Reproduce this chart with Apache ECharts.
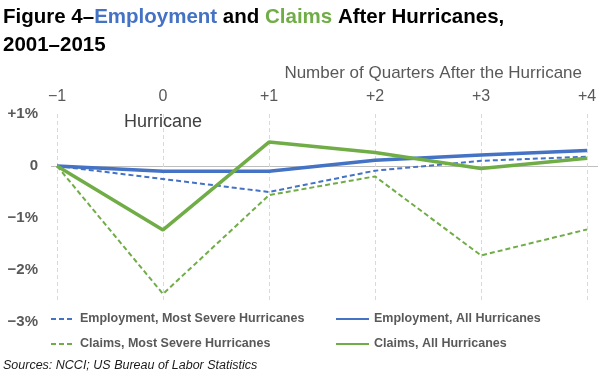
<!DOCTYPE html>
<html>
<head>
<meta charset="utf-8">
<script src="https://cdn.jsdelivr.net/npm/echarts@6/dist/echarts.min.js"></script>
<style>
  html, body { margin: 0; padding: 0; background: #fff; }
  #chart { width: 600px; height: 376px; }
</style>
</head>
<body>
<div id="chart"></div>
<script>
const chart = echarts.init(document.getElementById('chart'));

const quarters = [-1, 0, 1, 2, 3, 4];
const quarterLabels = ['\u22121', '0', '+1', '+2', '+3', '+4'];
const yTicks = [-3, -2, -1, 0, 1];
const yTickLabels = ['\u22123%', '\u22122%', '\u22121%', '0', '+1%'];

// percent change vs. the quarter before the hurricane
const empSevere = [0, -0.25, -0.5, -0.09, 0.1, 0.18];
const empAll = [0, -0.1, -0.1, 0.11, 0.21, 0.3];
const claimsSevere = [0, -2.46, -0.56, -0.2, -1.72, -1.22];
const claimsAll = [0, -1.23, 0.46, 0.26, -0.05, 0.15];

const FONT = 'Liberation Sans';
const GRAY = '#595959';
const BLUE = '#4472C4';
const GREEN = '#70AD47';

const pairs = vals => quarters.map((q, i) => [q, vals[i]]);

const legendText = { fontFamily: FONT, fontSize: 12.5, fontWeight: 'bold', color: GRAY, lineHeight: 14 };

const option = {
  animation: false,
  textStyle: { fontFamily: FONT },
  title: [
    {
      left: 3,
      top: 3,
      padding: 0,
      text: '{b|Figure 4\u2013}{e|Employment}{b| and }{c|Claims}{b| After Hurricanes,}\n{b|2001\u20132015}',
      textStyle: {
        rich: {
          b: { fontFamily: FONT, fontSize: 20.5, fontWeight: 'bold', color: '#000', lineHeight: 28 },
          e: { fontFamily: FONT, fontSize: 20.5, fontWeight: 'bold', color: BLUE, lineHeight: 28 },
          c: { fontFamily: FONT, fontSize: 20.5, fontWeight: 'bold', color: GREEN, lineHeight: 28 }
        }
      }
    },
    {
      // x axis name, sits above the tick labels
      right: 18,
      top: 64,
      padding: 0,
      text: 'Number of Quarters After the Hurricane',
      textStyle: { fontFamily: FONT, fontSize: 17, fontWeight: 'normal', color: GRAY, lineHeight: 18 }
    },
    {
      left: 3,
      top: 359,
      padding: 0,
      text: 'Sources: NCCI; US Bureau of Labor Statistics',
      textStyle: { fontFamily: FONT, fontSize: 12.5, fontStyle: 'italic', fontWeight: 'normal', color: '#1a1a1a', lineHeight: 14 }
    }
  ],
  legend: [
    {
      orient: 'vertical',
      left: 45,
      top: 303,
      padding: [9, 20, 8, 5],
      backgroundColor: '#fff',
      itemWidth: 24,
      itemHeight: 14,
      itemGap: 11,
      itemStyle: { opacity: 0 },
      data: ['Employment, Most Severe Hurricanes', 'Claims, Most Severe Hurricanes'],
      textStyle: legendText
    },
    {
      orient: 'vertical',
      left: 330,
      top: 303,
      padding: [9, 70, 8, 5],
      backgroundColor: '#fff',
      itemWidth: 33,
      itemHeight: 14,
      itemGap: 11,
      itemStyle: { opacity: 0 },
      data: ['Employment, All Hurricanes', 'Claims, All Hurricanes'],
      textStyle: legendText
    }
  ],
  grid: { left: 51, right: 2, top: 114, bottom: 54 },
  xAxis: {
    type: 'value',
    position: 'top',
    min: -1.0566,
    max: 4.1038,
    axisLine: { show: false },
    axisTick: { show: false },
    axisLabel: {
      showMinLabel: false,
      showMaxLabel: false,
      margin: 9,
      fontFamily: FONT,
      fontSize: 16,
      color: GRAY,
      formatter: v => {
        const i = quarters.indexOf(Math.round(v * 1000) / 1000);
        return i < 0 ? '' : quarterLabels[i];
      }
    },
    splitLine: {
      show: true,
      showMinLine: false,
      showMaxLine: false,
      lineStyle: { color: '#d9d9d9', width: 1, type: [4, 3] }
    }
  },
  yAxis: {
    type: 'value',
    min: -3,
    max: 1,
    interval: 1,
    axisLine: { show: false },
    axisTick: { show: false },
    axisLabel: {
      margin: 13,
      fontFamily: FONT,
      fontSize: 15,
      fontWeight: 'bold',
      color: GRAY,
      formatter: v => yTickLabels[yTicks.indexOf(v)]
    },
    splitLine: {
      show: true,
      lineStyle: {
        width: 1,
        // only the zero line is visible
        color: yTicks.map(t => (t === 0 ? '#bfbfbf' : 'rgba(0,0,0,0)'))
      }
    }
  },
  series: [
    {
      name: 'Employment, Most Severe Hurricanes',
      type: 'line',
      symbol: 'none',
      data: pairs(empSevere),
      lineStyle: { color: BLUE, width: 2, type: [5, 3] },
      itemStyle: { color: BLUE }
    },
    {
      name: 'Employment, All Hurricanes',
      type: 'line',
      symbol: 'none',
      data: pairs(empAll),
      lineStyle: { color: BLUE, width: 3.5 },
      itemStyle: { color: BLUE },
      markPoint: {
        symbol: 'circle',
        symbolSize: 0,
        silent: true,
        label: {
          show: true,
          position: 'inside',
          formatter: 'Hurricane',
          fontFamily: FONT,
          fontSize: 18,
          color: '#404040'
        },
        data: [{ coord: [0, 0.85] }]
      }
    },
    {
      name: 'Claims, Most Severe Hurricanes',
      type: 'line',
      symbol: 'none',
      data: pairs(claimsSevere),
      lineStyle: { color: GREEN, width: 2, type: [5, 3] },
      itemStyle: { color: GREEN }
    },
    {
      name: 'Claims, All Hurricanes',
      type: 'line',
      symbol: 'none',
      data: pairs(claimsAll),
      lineStyle: { color: GREEN, width: 3.5 },
      itemStyle: { color: GREEN }
    }
  ]
};

chart.setOption(option);
window.addEventListener('resize', function () { chart.resize(); });
</script>
</body>
</html>
